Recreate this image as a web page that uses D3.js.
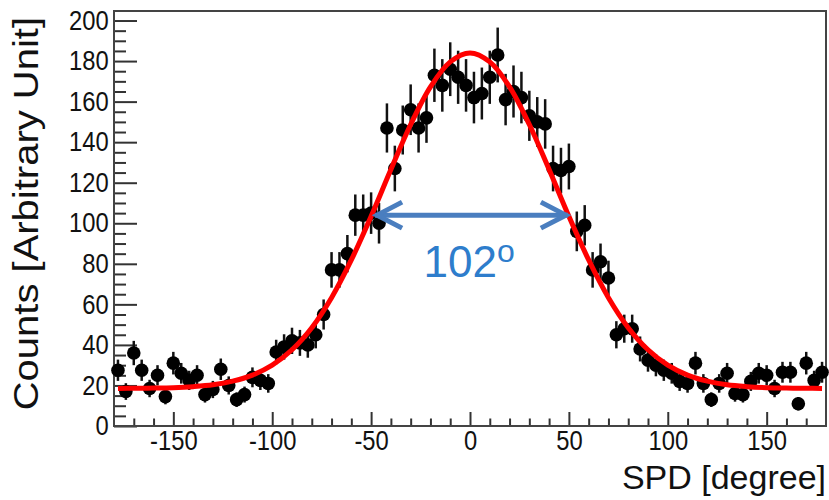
<!DOCTYPE html>
<html>
<head>
<meta charset="utf-8">
<script src="https://cdnjs.cloudflare.com/ajax/libs/d3/7.8.5/d3.min.js"></script>
<style>
  body { margin: 0; background: #fff; }
  svg { display: block; }
  text { font-family: "Liberation Sans", Arial, sans-serif; fill: #111; }
</style>
</head>
<body>
<svg id="chart" width="829" height="500"></svg>
<script>
// histogram bins (4 degree wide) and their counts
const binCenters = [
  -178, -174, -170, -166, -162, -158, -154, -150, -146, -142,
  -138, -134, -130, -126, -122, -118, -114, -110, -106, -102,
  -98, -94, -90, -86, -82, -78, -74, -70, -66, -62,
  -58, -54, -50, -46, -42, -38, -34, -30, -26, -22,
  -18, -14, -10, -6, -2, 2, 6, 10, 14, 18,
  22, 26, 30, 34, 38, 42, 46, 50, 54, 58,
  62, 66, 70, 74, 78, 82, 86, 90, 94, 98,
  102, 106, 110, 114, 118, 122, 126, 130, 134, 138,
  142, 146, 150, 154, 158, 162, 166, 170, 174, 178
];
const counts = [
  27.5, 17, 36, 27.5, 18.5, 25, 14.5, 31, 26, 22.5,
  25, 15.5, 18, 28, 20, 13, 15.5, 24, 22.5, 21,
  36.5, 39, 42, 41, 40, 45, 55, 77, 77, 85,
  104, 104, 105, 100, 147, 127, 146, 156, 147, 152,
  173, 168, 176, 172, 168, 162, 164, 172, 183, 161,
  165, 162, 153, 150, 149, 127, 126, 128, 96, 99,
  77, 81, 73, 45, 48, 48, 38, 32.5, 30, 27.5,
  26, 22, 21, 31, 21, 13, 21, 26, 16, 15.5,
  22, 26, 25, 18.5, 26.5, 26.5, 11, 31, 22.5, 26.5
];

// fitted curve
const fitX = [-178, -170, -160, -150, -140, -130, -120, -110, -100, -90, -80, -70, -60, -50, -40, -30, -20, -10,
  0, 10, 20, 30, 40, 50, 60, 70, 80, 90, 100, 110, 120, 130, 140, 150, 160, 170, 178];
const fitY = [18.5, 18.6, 18.7, 18.9, 19.4, 20.3, 22.1, 25.1, 30, 37.6, 48.5, 63.3, 81.9, 103.4, 126.5, 148.7, 167.3, 179.6,
  184, 179.6, 167.3, 148.7, 126.5, 103.4, 81.9, 63.3, 48.5, 37.6, 30, 25.1, 22.1, 20.3, 19.4, 18.9, 18.7, 18.6, 18.5];

const xTicks = [-150, -100, -50, 0, 50, 100, 150];
const yTicks = [0, 20, 40, 60, 80, 100, 120, 140, 160, 180, 200];

// FWHM annotation
const fwhmSpan = [-48, 49.5];
const fwhmLevel = 104;
const fwhmLabel = '102';

const margin = { top: 11, right: 3, bottom: 74, left: 114 };
const width = 829 - margin.left - margin.right;
const height = 500 - margin.top - margin.bottom;
const squash = 0.88;

const x = d3.scaleLinear().domain([-180, 180]).range([0, width]);
const y = d3.scaleLinear().domain([0, 204.7]).range([height, 0]);

const svg = d3.select('#chart')
  .append('g')
    .attr('transform', `translate(${margin.left}, ${margin.top})`);

const minorX = d3.range(-170, 180, 10).filter(v => v % 50 !== 0);
const minorY = d3.range(5, 200, 5).filter(v => v % 20 !== 0);

// minor ticks
svg.append('g')
    .attr('class', 'axis minor')
    .attr('transform', `translate(0, ${height})`)
    .call(d3.axisBottom(x).tickValues(minorX).tickFormat('').tickSizeInner(-7.5).tickSizeOuter(0));
svg.append('g')
    .attr('class', 'axis minor')
    .call(d3.axisLeft(y).tickValues(minorY).tickFormat('').tickSizeInner(-12).tickSizeOuter(0));

// major ticks + labels
const xAxis = svg.append('g')
    .attr('class', 'axis')
    .attr('transform', `translate(0, ${height})`)
    .call(d3.axisBottom(x).tickValues(xTicks).tickFormat(d3.format('d')).tickSizeInner(-14).tickSizeOuter(0).tickPadding(5));
svg.append('g')
    .attr('class', 'axis')
    .call(d3.axisLeft(y).tickValues(yTicks).tickFormat(d3.format('d')).tickSizeInner(-23).tickSizeOuter(0).tickPadding(6));

svg.selectAll('.axis .domain').remove();
svg.selectAll('.axis line').attr('stroke', '#333').attr('stroke-width', 2);
svg.selectAll('.axis text')
    .attr('font-size', 27)
    .attr('font-family', '"Liberation Sans", Arial, sans-serif')
    .attr('fill', '#111')
    .attr('transform', `scale(${squash}, 1)`);
xAxis.selectAll('text').text(d => (d < 0 ? `-${-d}` : d));

// frame
svg.append('rect')
    .attr('width', width)
    .attr('height', height)
    .attr('fill', 'none')
    .attr('stroke', '#444')
    .attr('stroke-width', 2);

// axis titles
svg.append('text')
    .attr('x', width)
    .attr('y', height + 63)
    .attr('text-anchor', 'end')
    .attr('font-size', 34)
    .text('SPD [degree]');

svg.append('text')
    .attr('transform', `translate(${-76}, 6) rotate(-90) scale(1, ${squash})`)
    .attr('text-anchor', 'end')
    .attr('font-size', 40)
    .text('Counts [Arbitrary Unit]');

// error bars and points
const bins = binCenters.map((c, i) => ({ c, n: counts[i] }));

svg.selectAll('.err')
    .data(bins)
  .enter().append('line')
    .attr('class', 'err')
    .attr('x1', d => x(d.c))
    .attr('x2', d => x(d.c))
    .attr('y1', d => y(d.n + Math.sqrt(d.n)))
    .attr('y2', d => y(d.n - Math.sqrt(d.n)))
    .attr('stroke', '#111')
    .attr('stroke-width', 2.5);

svg.selectAll('.dot')
    .data(bins)
  .enter().append('circle')
    .attr('class', 'dot')
    .attr('r', 6.8)
    .attr('cx', d => x(d.c))
    .attr('cy', d => y(d.n))
    .attr('fill', '#000');

// fit
const fitLine = d3.line()
    .x(d => x(d[0]))
    .y(d => y(d[1]))
    .curve(d3.curveCatmullRom);

svg.append('path')
    .datum(fitX.map((v, i) => [v, fitY[i]]))
    .attr('d', fitLine)
    .attr('fill', 'none')
    .attr('stroke', '#ff0000')
    .attr('stroke-width', 5);

// FWHM arrow
const ax1 = x(fwhmSpan[0]);
const ax2 = x(fwhmSpan[1]);
const ay = y(fwhmLevel);
const arrow = svg.append('g')
    .attr('fill', 'none')
    .attr('stroke', '#4a7ebf')
    .attr('stroke-width', 5);
arrow.append('line').attr('x1', ax1).attr('x2', ax2).attr('y1', ay).attr('y2', ay);
arrow.append('path').attr('d', `M${ax1 + 27},${ay - 13} L${ax1 + 2},${ay} L${ax1 + 27},${ay + 13}`);
arrow.append('path').attr('d', `M${ax2 - 27},${ay - 13} L${ax2 - 2},${ay} L${ax2 - 27},${ay + 13}`);

const label = svg.append('text')
    .attr('x', x(-23.5))
    .attr('y', ay + 62)
    .attr('font-family', '"Open Sans", sans-serif')
    .attr('font-size', 44)
    .style('fill', '#2e7dcc');
label.append('tspan').text(fwhmLabel);
label.append('tspan')
    .attr('font-size', 32)
    .attr('dy', -15)
    .text('o');
</script>
</body>
</html>
